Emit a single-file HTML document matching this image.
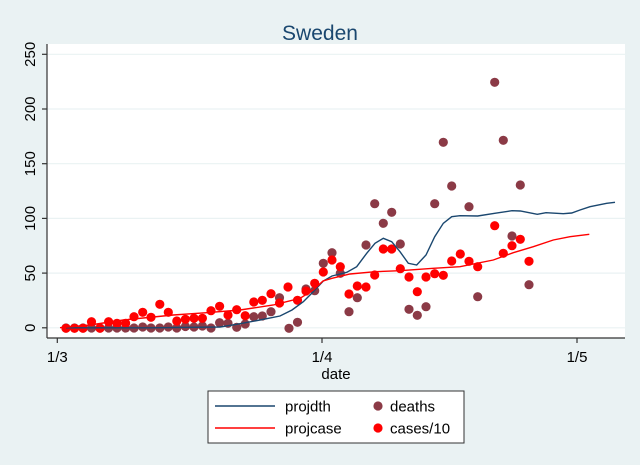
<!DOCTYPE html>
<html><head><meta charset="utf-8"><style>
html,body{margin:0;padding:0;background:#eaf2f3;}
svg{display:block;font-family:"Liberation Sans",Arial,sans-serif;}
</style></head><body>
<svg width="640" height="465" viewBox="0 0 640 465" xmlns="http://www.w3.org/2000/svg">
<rect x="0" y="0" width="640" height="465" fill="#eaf2f3"/>
<rect x="47" y="44" width="578" height="294" fill="#ffffff"/>
<g stroke="#eaf2f3" stroke-width="1.2">
<line x1="47" y1="54.3" x2="625" y2="54.3"/>
<line x1="47" y1="109" x2="625" y2="109"/>
<line x1="47" y1="163.7" x2="625" y2="163.7"/>
<line x1="47" y1="218.4" x2="625" y2="218.4"/>
<line x1="47" y1="273.1" x2="625" y2="273.1"/>
<line x1="47" y1="327.8" x2="625" y2="327.8"/>
</g>
<g stroke="#333" stroke-width="1.2">
<line x1="47" y1="44" x2="47" y2="338"/>
<line x1="47" y1="338" x2="625" y2="338"/>
<line x1="42" y1="54.3" x2="47" y2="54.3"/>
<line x1="42" y1="109" x2="47" y2="109"/>
<line x1="42" y1="163.7" x2="47" y2="163.7"/>
<line x1="42" y1="218.4" x2="47" y2="218.4"/>
<line x1="42" y1="273.1" x2="47" y2="273.1"/>
<line x1="42" y1="327.8" x2="47" y2="327.8"/>
<line x1="57.3" y1="338" x2="57.3" y2="343"/>
<line x1="322" y1="338" x2="322" y2="343"/>
<line x1="577" y1="338" x2="577" y2="343"/>
</g>
<g font-size="15" fill="#000" text-anchor="middle">
<text transform="translate(35,54.3) rotate(-90)">250</text>
<text transform="translate(35,109) rotate(-90)">200</text>
<text transform="translate(35,163.7) rotate(-90)">150</text>
<text transform="translate(35,218.4) rotate(-90)">100</text>
<text transform="translate(35,273.1) rotate(-90)">50</text>
<text transform="translate(35,327.8) rotate(-90)">0</text>
<text x="57.3" y="362">1/3</text>
<text x="322" y="362">1/4</text>
<text x="577" y="362">1/5</text>
<text x="336" y="379">date</text>
</g>
<text x="320" y="40" font-size="21" fill="#1a476f" text-anchor="middle">Sweden</text>

<g fill="#8b3a46">
<circle cx="66" cy="328" r="4.6"/><circle cx="74.5" cy="328" r="4.6"/><circle cx="83" cy="328" r="4.6"/>
<circle cx="91.5" cy="328" r="4.6"/><circle cx="100" cy="328" r="4.6"/><circle cx="108.6" cy="328" r="4.6"/>
<circle cx="117" cy="328" r="4.6"/><circle cx="125.6" cy="328" r="4.6"/><circle cx="134" cy="328" r="4.6"/>
<circle cx="142.7" cy="327" r="4.6"/><circle cx="151" cy="328" r="4.6"/><circle cx="159.8" cy="328" r="4.6"/>
<circle cx="168.3" cy="327" r="4.6"/><circle cx="176.8" cy="328" r="4.6"/><circle cx="185.4" cy="326.5" r="4.6"/>
<circle cx="194" cy="327" r="4.6"/><circle cx="202.4" cy="326" r="4.6"/><circle cx="211" cy="328" r="4.6"/>
<circle cx="219.6" cy="322.7" r="4.6"/><circle cx="228" cy="323.3" r="4.6"/><circle cx="236.7" cy="327.3" r="4.6"/>
<circle cx="245.2" cy="324" r="4.6"/><circle cx="253.8" cy="316.7" r="4.6"/><circle cx="262.3" cy="316" r="4.6"/>
<circle cx="271" cy="311.7" r="4.6"/><circle cx="279.5" cy="297.7" r="4.6"/><circle cx="289" cy="328.3" r="4.6"/>
<circle cx="297.5" cy="322.3" r="4.6"/><circle cx="306" cy="289" r="4.6"/><circle cx="314.7" cy="290.7" r="4.6"/>
<circle cx="323.3" cy="263.3" r="4.6"/><circle cx="332" cy="252.7" r="4.6"/><circle cx="340.3" cy="273.3" r="4.6"/>
<circle cx="349" cy="311.7" r="4.6"/><circle cx="357.3" cy="297.7" r="4.6"/><circle cx="366" cy="245" r="4.6"/>
<circle cx="374.7" cy="203.7" r="4.6"/><circle cx="383.3" cy="223.3" r="4.6"/><circle cx="391.7" cy="212.3" r="4.6"/>
<circle cx="400.3" cy="244" r="4.6"/><circle cx="409" cy="309.3" r="4.6"/><circle cx="417.3" cy="315.3" r="4.6"/>
<circle cx="426" cy="306.7" r="4.6"/><circle cx="434.7" cy="203.7" r="4.6"/><circle cx="443.3" cy="142.3" r="4.6"/>
<circle cx="451.7" cy="186" r="4.6"/><circle cx="469" cy="206.7" r="4.6"/><circle cx="477.7" cy="296.7" r="4.6"/>
<circle cx="494.7" cy="82.3" r="4.6"/><circle cx="503.3" cy="140.3" r="4.6"/><circle cx="512" cy="236" r="4.6"/>
<circle cx="520.3" cy="185" r="4.6"/><circle cx="529" cy="284.7" r="4.6"/>
</g>
<g fill="#ff0000">
<circle cx="66" cy="328.3" r="4.6"/><circle cx="74.5" cy="328.3" r="4.6"/><circle cx="83" cy="328.3" r="4.6"/>
<circle cx="91.5" cy="321.7" r="4.6"/><circle cx="100" cy="328.3" r="4.6"/><circle cx="108.6" cy="321.7" r="4.6"/>
<circle cx="117" cy="323.3" r="4.6"/><circle cx="125.6" cy="323.3" r="4.6"/><circle cx="134" cy="316.7" r="4.6"/>
<circle cx="142.7" cy="312.3" r="4.6"/><circle cx="151" cy="317.3" r="4.6"/><circle cx="159.8" cy="304.3" r="4.6"/>
<circle cx="168.3" cy="312.3" r="4.6"/><circle cx="176.8" cy="321" r="4.6"/><circle cx="185.4" cy="319.3" r="4.6"/>
<circle cx="194" cy="318.3" r="4.6"/><circle cx="202.4" cy="318.3" r="4.6"/><circle cx="211" cy="310.7" r="4.6"/>
<circle cx="219.6" cy="306.3" r="4.6"/><circle cx="228" cy="315" r="4.6"/><circle cx="236.7" cy="309.7" r="4.6"/>
<circle cx="245.2" cy="315.7" r="4.6"/><circle cx="253.8" cy="302" r="4.6"/><circle cx="262.3" cy="300.3" r="4.6"/>
<circle cx="271" cy="293.7" r="4.6"/><circle cx="279.5" cy="303" r="4.6"/><circle cx="288" cy="287" r="4.6"/>
<circle cx="297.5" cy="300.3" r="4.6"/><circle cx="306" cy="291" r="4.6"/><circle cx="314.7" cy="283.3" r="4.6"/>
<circle cx="323.3" cy="272" r="4.6"/><circle cx="332" cy="260" r="4.6"/><circle cx="340.3" cy="266.7" r="4.6"/>
<circle cx="349" cy="294" r="4.6"/><circle cx="357.3" cy="286" r="4.6"/><circle cx="366" cy="287" r="4.6"/>
<circle cx="374.7" cy="275" r="4.6"/><circle cx="383.3" cy="249" r="4.6"/><circle cx="391.7" cy="249" r="4.6"/>
<circle cx="400.3" cy="268.7" r="4.6"/><circle cx="409" cy="277" r="4.6"/><circle cx="417.3" cy="291.7" r="4.6"/>
<circle cx="426" cy="277" r="4.6"/><circle cx="434.7" cy="273.7" r="4.6"/><circle cx="443.3" cy="275.3" r="4.6"/>
<circle cx="451.7" cy="261" r="4.6"/><circle cx="460.3" cy="254" r="4.6"/><circle cx="469" cy="261.3" r="4.6"/>
<circle cx="477.7" cy="266.7" r="4.6"/><circle cx="494.7" cy="225.7" r="4.6"/><circle cx="503.3" cy="253.3" r="4.6"/>
<circle cx="512" cy="245.7" r="4.6"/><circle cx="520.3" cy="239.3" r="4.6"/><circle cx="529" cy="261.3" r="4.6"/>
</g>
<polyline fill="none" stroke="#1a476f" stroke-width="1.4" points="66,327.8 150,327.8 220,327 236.7,324.3 260,320 280,316 292,310 303.3,301.7 313,292 323.3,281 332,276 346.7,272.3 356.7,266.7 366.7,253.3 375,243.3 383.3,238.3 391.7,241.7 400,251.7 408.3,263.3 416.7,265 426,255 434.7,236.7 443.3,223.3 451.7,216.7 460,215.7 477.7,216 494.7,213.3 512,210.7 520.3,211 537.3,214.3 546,212.7 563.3,213.7 571.7,213 580,210 590,206.7 606.7,203.3 615,202.3"/>
<polyline fill="none" stroke="#ff0000" stroke-width="1.4" points="60,327.7 90,325 123.3,320 173.3,315 206.7,312.7 240,310 273.3,305 300,298.3 313.3,290 323,281 332,278.3 350,274 375,271.7 400,270.7 433.3,268.3 460,266.7 493.3,260 513.3,252.7 533.3,246.7 553.3,240 570,236.7 589.3,234.3"/>

<rect x="208" y="391" width="256" height="52" fill="#ffffff" stroke="#333" stroke-width="1"/>
<line x1="215" y1="406" x2="275" y2="406" stroke="#1a476f" stroke-width="1.4"/>
<line x1="215" y1="428" x2="275" y2="428" stroke="#ff0000" stroke-width="1.4"/>
<circle cx="378" cy="406" r="4.6" fill="#8b3a46"/>
<circle cx="378" cy="428" r="4.6" fill="#ff0000"/>
<g font-size="15" fill="#000">
<text x="285" y="411.5">projdth</text>
<text x="285" y="433.5">projcase</text>
<text x="390" y="411.5">deaths</text>
<text x="390" y="433.5">cases/10</text>
</g>
</svg>
</body></html>
